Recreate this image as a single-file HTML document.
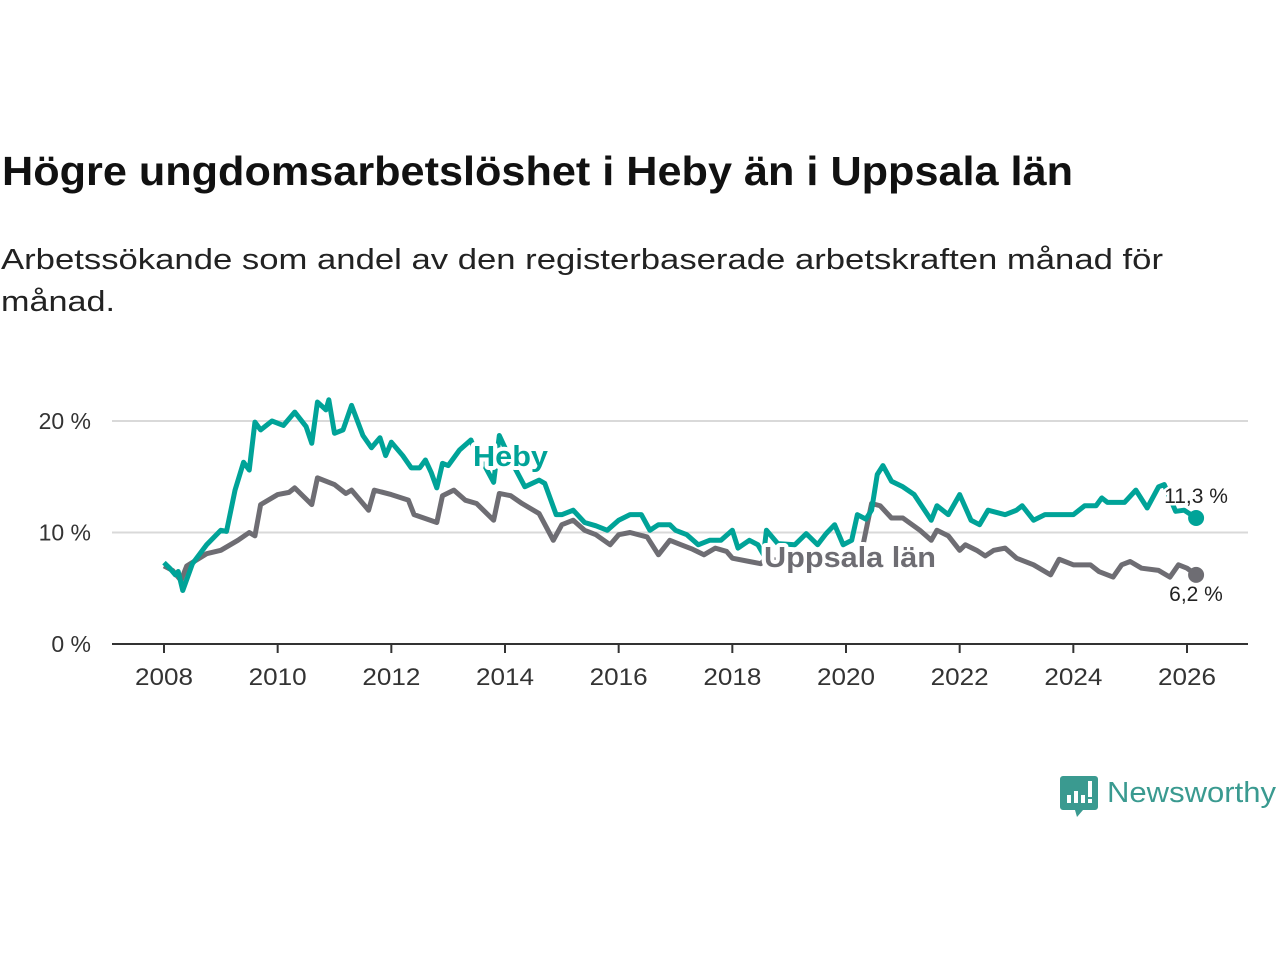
<!DOCTYPE html>
<html><head><meta charset="utf-8"><style>
body{margin:0;background:#fff;width:1280px;height:960px;overflow:hidden}
svg{font-family:"Liberation Sans","DejaVu Sans",sans-serif}
</style></head><body>
<svg id="c" width="1280" height="960">
<text x="2" y="185" font-size="41" font-weight="bold" fill="#111" textLength="1071" lengthAdjust="spacingAndGlyphs">Högre ungdomsarbetslöshet i Heby än i Uppsala län</text>
<text x="1" y="269" font-size="29" fill="#222" textLength="1162" lengthAdjust="spacingAndGlyphs">Arbetssökande som andel av den registerbaserade arbetskraften månad för</text>
<text x="1" y="311" font-size="29" fill="#222" textLength="114" lengthAdjust="spacingAndGlyphs">månad.</text>
<g id="grid"></g>
<g id="yax"></g>
<g id="xax"></g>
<g id="lines"></g>
<g>
<path d="M1063 776h32a3 3 0 0 1 3 3v28a3 3 0 0 1-3 3h-12l-6 7-2-7h-12a3 3 0 0 1-3-3v-28a3 3 0 0 1 3-3z" fill="#3a9a90"/>
<rect x="1067" y="795" width="4" height="8" fill="#fff"/><rect x="1074" y="791" width="4" height="12" fill="#fff"/><rect x="1081" y="795" width="4" height="8" fill="#fff"/><rect x="1088" y="781" width="4" height="16" fill="#fff"/><rect x="1088" y="799" width="4" height="4" fill="#fff"/>
<text x="1107" y="802" font-size="29" fill="#3a9a90" textLength="169" lengthAdjust="spacingAndGlyphs">Newsworthy</text>
</g>
</svg>
<script>
const yTicks=[0,10,20];
const yTickLabels=["0 %","10 %","20 %"];
const xTicks=[2008,2010,2012,2014,2016,2018,2020,2022,2024,2026];
const hebyDates=[2008.0,2008.1,2008.2,2008.25,2008.33,2008.5,2008.75,2009.0,2009.1,2009.25,2009.4,2009.5,2009.6,2009.7,2009.9,2010.1,2010.3,2010.5,2010.6,2010.7,2010.85,2010.9,2011.0,2011.15,2011.3,2011.5,2011.65,2011.8,2011.9,2012.0,2012.2,2012.35,2012.5,2012.6,2012.7,2012.8,2012.9,2013.0,2013.2,2013.4,2013.5,2013.6,2013.8,2013.9,2014.1,2014.35,2014.6,2014.7,2014.9,2015.0,2015.2,2015.4,2015.6,2015.8,2016.0,2016.2,2016.4,2016.55,2016.7,2016.9,2017.0,2017.2,2017.4,2017.6,2017.8,2018.0,2018.1,2018.3,2018.45,2018.55,2018.6,2018.8,2019.1,2019.3,2019.5,2019.65,2019.8,2019.95,2020.1,2020.2,2020.35,2020.45,2020.55,2020.65,2020.8,2021.0,2021.2,2021.5,2021.6,2021.8,2022.0,2022.2,2022.35,2022.5,2022.8,2023.0,2023.1,2023.3,2023.5,2023.7,2024.0,2024.2,2024.4,2024.5,2024.6,2024.9,2025.1,2025.3,2025.5,2025.6,2025.8,2025.95,2026.16];
const hebyValues=[7.3,6.8,6.2,6.5,4.8,7.2,8.9,10.2,10.1,13.8,16.3,15.6,19.9,19.2,20.0,19.6,20.8,19.5,18.0,21.7,21.0,21.9,18.9,19.2,21.4,18.7,17.6,18.5,16.9,18.1,16.9,15.8,15.8,16.5,15.4,14.0,16.2,16.0,17.4,18.3,17.0,16.4,14.5,18.7,16.5,14.1,14.7,14.4,11.6,11.6,12.0,10.9,10.6,10.2,11.1,11.6,11.6,10.2,10.7,10.7,10.2,9.8,8.9,9.3,9.3,10.2,8.6,9.3,8.9,8.0,10.2,9.0,8.9,9.9,8.9,9.9,10.7,8.9,9.3,11.6,11.2,12.0,15.2,16.0,14.6,14.1,13.4,11.1,12.4,11.6,13.4,11.1,10.7,12.0,11.6,12.0,12.4,11.1,11.6,11.6,11.6,12.4,12.4,13.1,12.7,12.7,13.8,12.2,14.1,14.3,11.9,12.0,11.3];
const uppsalaDates=[2008.0,2008.15,2008.3,2008.4,2008.75,2009.0,2009.3,2009.5,2009.6,2009.7,2010.0,2010.2,2010.3,2010.6,2010.7,2011.0,2011.2,2011.3,2011.6,2011.7,2012.0,2012.3,2012.4,2012.8,2012.9,2013.1,2013.3,2013.5,2013.8,2013.9,2014.1,2014.3,2014.6,2014.85,2015.0,2015.2,2015.4,2015.6,2015.85,2016.0,2016.2,2016.5,2016.7,2016.9,2017.1,2017.3,2017.5,2017.7,2017.9,2018.0,2018.3,2018.5,2018.6,2019.0,2019.5,2020.0,2020.3,2020.45,2020.6,2020.8,2021.0,2021.3,2021.5,2021.6,2021.8,2022.0,2022.1,2022.3,2022.45,2022.6,2022.8,2023.0,2023.3,2023.6,2023.75,2024.0,2024.3,2024.45,2024.7,2024.85,2025.0,2025.2,2025.5,2025.7,2025.85,2026.0,2026.16];
const uppsalaValues=[7.0,6.6,5.7,7.0,8.1,8.4,9.3,10.0,9.7,12.5,13.4,13.6,14.0,12.5,14.9,14.3,13.5,13.8,12.0,13.8,13.4,12.9,11.6,10.9,13.3,13.8,12.9,12.6,11.1,13.5,13.3,12.6,11.7,9.3,10.7,11.1,10.2,9.8,8.9,9.8,10.0,9.6,8.0,9.3,8.9,8.5,8.0,8.6,8.3,7.7,7.4,7.2,7.7,7.3,7.2,7.0,8.9,12.6,12.4,11.3,11.3,10.2,9.3,10.2,9.7,8.4,8.9,8.4,7.9,8.4,8.6,7.7,7.1,6.2,7.6,7.1,7.1,6.5,6.0,7.1,7.4,6.8,6.6,6.0,7.1,6.8,6.2];
const NS="http://www.w3.org/2000/svg";
const X0=112,X1=1248;
function xs(d){return 164+(d-2008)*(1187-164)/18;}
function ys(v){return 644-v*11.15;}
function mk(t,a,p){const e=document.createElementNS(NS,t);for(const k in a)e.setAttribute(k,a[k]);(p||document.getElementById('c')).appendChild(e);return e;}
const grid=document.getElementById('grid'),yax=document.getElementById('yax'),xax=document.getElementById('xax'),lines=document.getElementById('lines');
yTicks.forEach((v,i)=>{
 if(v>0){const g=mk('line',{x1:X0,x2:X1,y1:ys(v),y2:ys(v),stroke:'#d9d9d9','stroke-width':2},grid);
 
 }
 const t=mk('text',{x:91,y:ys(v)+8,'font-size':23,fill:'#333','text-anchor':'end'},yax);t.textContent=yTickLabels[i];
 
 
});
const ax=mk('line',{x1:X0,x2:X1,y1:644,y2:644,stroke:'#333','stroke-width':2},xax);


xTicks.forEach(d=>{
 mk('line',{x1:xs(d),x2:xs(d),y1:644,y2:653,stroke:'#333','stroke-width':2},xax);
 const t=mk('text',{x:xs(d),y:685,'font-size':24,fill:'#333','text-anchor':'middle',textLength:58,lengthAdjust:'spacingAndGlyphs'},xax);t.textContent=d;
 
 
});
function series(ds,vs,col,name){
 const p=mk('polyline',{points:ds.map((d,i)=>xs(d)+','+ys(vs[i])).join(' '),fill:'none',stroke:col,'stroke-width':5,'stroke-linejoin':'round'},lines);
 
 
 const c=mk('circle',{cx:xs(ds[ds.length-1]),cy:ys(vs[vs.length-1]),r:8,fill:col},lines);
 
 
}
series(uppsalaDates,uppsalaValues,'#6e6d73','uppsala');
series(hebyDates,hebyValues,'#00a398','heby');
function lab(x,y,txt,col,w,name,anchor,len){
 const a={x:x,y:y,'font-size':w?29:21,'font-weight':w?'bold':'normal',fill:col,stroke:'#fff','stroke-width':w?8:5,'paint-order':'stroke','stroke-linejoin':'round','text-anchor':anchor||'start'};
 if(len){a.textLength=len;a.lengthAdjust='spacingAndGlyphs';}
 const t=mk('text',a,lines);
 t.textContent=txt;
 
 
}
lab(473,466,'Heby','#00a398',true,'heby-label','start',75);
lab(764,567,'Uppsala län','#6e6d73',true,'uppsala-label','start',172);
lab(1196,503,'11,3 %','#222',false,'heby-end-value','middle');
lab(1196,601,'6,2 %','#222',false,'uppsala-end-value','middle');
</script>
</body></html>
